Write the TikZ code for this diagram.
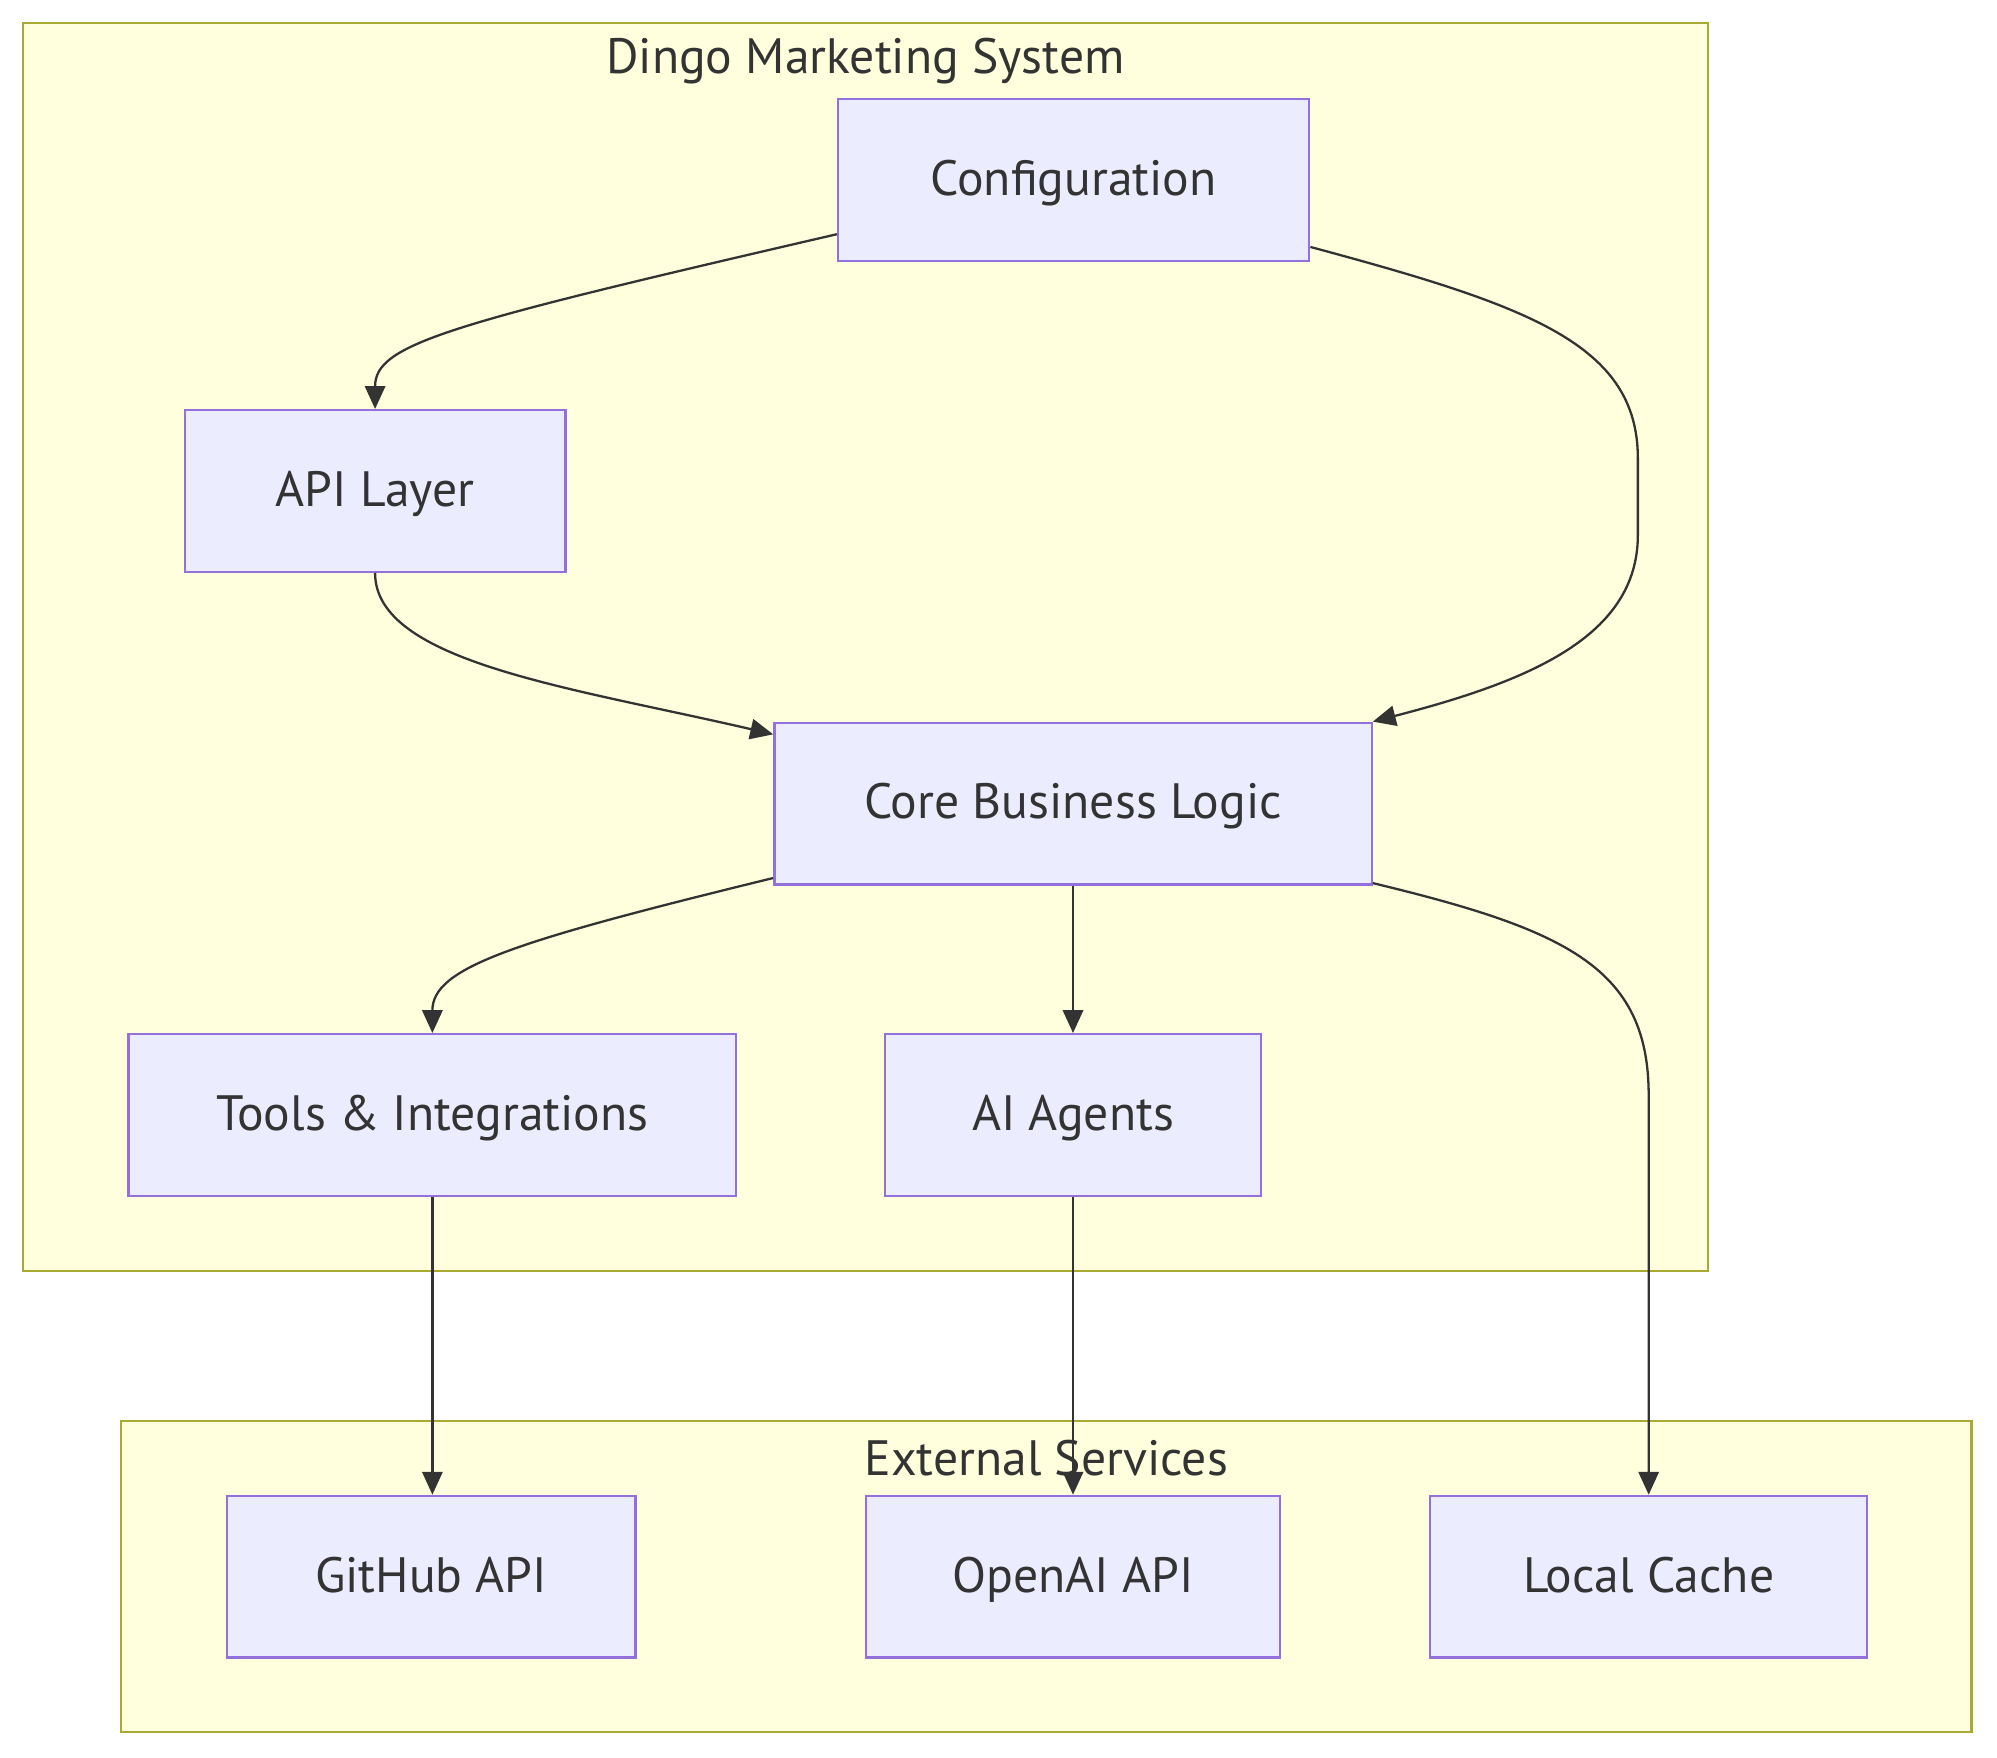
\documentclass[tikz,border=0pt]{standalone}
\usepackage{fontspec}
\setmainfont{PT Sans}
\usetikzlibrary{arrows.meta,calc}
\definecolor{clusterfill}{HTML}{FFFFDE}
\definecolor{clusterline}{HTML}{AAAA33}
\definecolor{boxfill}{HTML}{ECECFF}
\definecolor{boxline}{HTML}{9370DB}
\definecolor{ink}{HTML}{333333}
\tikzset{
  cluster/.style={fill=clusterfill,draw=clusterline,line width=0.9pt},
  clustertitle/.style={text=ink,font=\fontsize{19.5}{24}\selectfont},
  box/.style={rectangle,fill=boxfill,draw=boxline,line width=0.9pt,inner sep=0pt,
    minimum height=63.5pt,text height=14pt,text depth=2pt,text=ink,font=\fontsize{19.5}{24}\selectfont},
  link/.style={draw=ink,line width=0.9pt,-{Triangle[length=9pt,width=8pt]}}
}
\begin{document}
\begin{tikzpicture}[x=0.5pt,y=-0.5pt]
\useasboundingbox (0,0) rectangle (1568,1380);
% clusters
\draw[cluster] (18,18) rectangle (1341,998);
\node[clustertitle] (systitle) at (679.5,48) {Dingo Marketing System};
\draw[cluster] (95,1116) rectangle (1548,1360);
\node[clustertitle] (exttitle) at (821.5,1145) {External Services};
% nodes
\node[box,minimum width=185pt] (config) at (843,141.5) {Configuration};
\node[box,minimum width=149.5pt] (api) at (294.5,385.5) {API Layer};
\node[box,minimum width=234.5pt] (core) at (842.5,631) {Core Business Logic};
\node[box,minimum width=238.5pt] (tools) at (339.5,875.5) {Tools \& Integrations};
\node[box,minimum width=147.5pt] (agents) at (842.5,875.5) {AI Agents};
\node[box,minimum width=160.5pt] (github) at (338.5,1238) {GitHub API};
\node[box,minimum width=162.5pt] (openai) at (842.5,1238) {OpenAI API};
\node[box,minimum width=171.5pt] (cache) at (1294.5,1238) {Local Cache};
% links
\draw[link] ([yshift=11pt]config.south west) .. controls (350,255) and (294.5,270) .. (api.north);
\draw[link] ([yshift=6pt]config.south east) .. controls (1200,240) and (1286,270) .. (1286,360)
  -- (1286,420) .. controls (1286,500) and (1200,535) .. (core.north east);
\draw[link] (api.south) .. controls (294.5,520) and (450,540) .. ([yshift=-5pt]core.north west);
\draw[link] ([yshift=3pt]core.south west) .. controls (400,740) and (339.5,760) .. (tools.north);
\draw[link] (core.south) -- (agents.north);
\draw[link] ([yshift=1pt]core.south east) .. controls (1230,730) and (1294.5,760) .. (1294.5,860) -- (cache.north);
\draw[link] (tools.south) -- (tools.south |- github.north);
\draw[link] (agents.south) -- (openai.north);
\end{tikzpicture}
\end{document}
